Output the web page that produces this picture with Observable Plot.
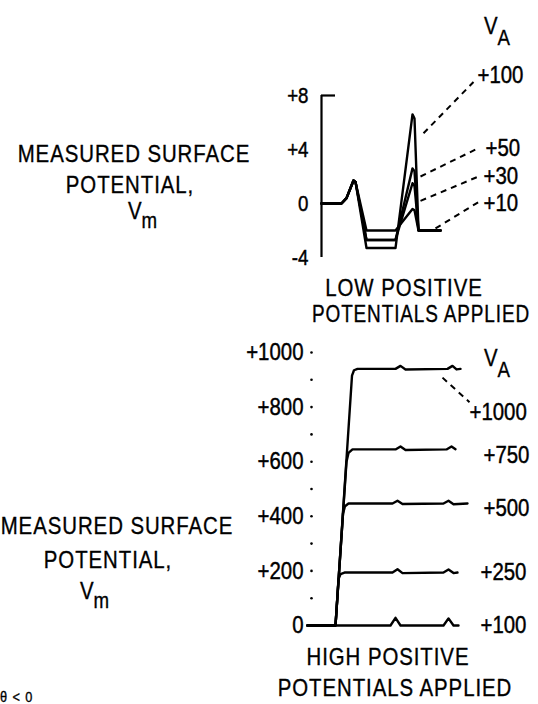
<!DOCTYPE html>
<html><head><meta charset="utf-8">
<script src="https://cdn.jsdelivr.net/npm/d3@7"></script>
<script src="https://cdn.jsdelivr.net/npm/@observablehq/plot@0.6"></script>
<style>
html,body{margin:0;padding:0;background:#fff;}
#wrap{position:relative;width:538px;height:704px;overflow:hidden;font-family:"Liberation Sans",Arial,sans-serif;color:#000;}
#wrap div.t{position:absolute;white-space:nowrap;font-size:24px;line-height:1;letter-spacing:1.1px;-webkit-text-stroke:0.35px #000;transform-origin:left top;transform:scale(0.85,1);}
#wrap div.c{transform-origin:center top;transform:translateX(-50%) scale(0.85,1);}
#wrap svg{position:absolute;left:0;}
#wrap svg text{stroke:#000;stroke-width:0.45px;}
.sub{position:relative;font-size:22px;}
</style></head><body><div id="wrap"></div>
<script>
const FONT = '"Liberation Sans",Arial,sans-serif';

// ---- LOW POSITIVE POTENTIALS panel ----
const lowTicks = [8, 4, 0, -4];
const lowX = [0, 20, 25, 32, 34, 45, 74, 91, 93, 97, 119];
const lowV10  = [0, 0, 0.4, 1.7, 1.6, -2.0, -2.0, -0.4, -0.5, -2.0, -2.0];
const lowV30  = [0, 0, 0.4, 1.7, 1.6, -2.7, -2.7, 1.5, 1.3, -2.0, -2.0];
const lowV50  = [0, 0, 0.4, 1.7, 1.6, -2.7, -2.7, 2.6, 2.4, -2.0, -2.0];
const lowV100 = [0, 0, 0.4, 1.7, 1.6, -3.3, -3.3, 6.6, 6.3, -2.0, -2.0];
const lowNames = ["+10", "+30", "+50", "+100"];
const lowLabelX = [162, 162, 164, 156];
const lowLabelY = [0.0, 2.0, 4.07, 9.5];
const lowLeadFrom = [[114, -1.85], [99, 0.2], [99, 2.0], [102, 5.2]];
const lowLeadTo = [[158, 0.15], [157, 2.0], [156, 4.07], [152, 9.0]];

// ---- HIGH POSITIVE POTENTIALS panel ----
const highTicks = [0, 200, 400, 600, 800, 1000];
const highDots = [100, 200, 300, 400, 500, 600, 700, 800, 900, 1000];
const highNames = ["+100", "+250", "+500", "+750", "+1000"];
const highX100 = [0, 83, 88, 93, 136, 141, 146, 151];
const highV100 = [0, 0, 28, 0, 0, 26, 0, 0];
const highX250 = [0, 28, 31, 33, 37, 85, 90, 95, 136, 141, 146, 150];
const highV250 = [0, 0, 170, 188, 194, 194, 206, 192, 194, 205, 192, 194];
const highX500 = [0, 28, 35.5, 37.5, 41, 85, 90, 95, 136, 141, 146, 160];
const highV500 = [0, 0, 410, 437, 447, 447, 457, 445, 447, 457, 444, 447];
const highX750 = [0, 28, 39, 41, 45, 88, 93, 98, 139, 144, 148];
const highV750 = [0, 0, 600, 632, 645, 645, 656, 643, 645, 656, 646];
const highX1000 = [0, 28, 44.5, 46.5, 50, 88, 93, 98, 140, 145, 149, 153];
const highV1000 = [0, 0, 915, 935, 940, 940, 951, 938, 940, 951, 938, 940];
const highLabelX = [173, 173, 176, 176, 162];
const highLabelY = [0, 194, 429, 623, 780];
const highLeadFrom = [[135, 908]];
const highLeadTo = [[162, 818]];

const wrap = document.getElementById("wrap");
function addText(html, left, top, center, extra) {
  const d = document.createElement("div");
  d.className = "t" + (center ? " c" : "");
  d.innerHTML = html;
  d.style.left = left + "px";
  d.style.top = top + "px";
  if (extra) Object.assign(d.style, extra);
  wrap.appendChild(d);
}
// narrow the SVG texts (glyphs compressed horizontally, anchors kept)
function squeeze(svg, sx) {
  svg.querySelectorAll("text").forEach(t => {
    const w = t.getComputedTextLength();
    if (w > 0) {
      t.setAttribute("textLength", (w * sx).toFixed(2));
      t.setAttribute("lengthAdjust", "spacingAndGlyphs");
    }
  });
}
const styleObj = {fontFamily: FONT, fontSize: "24px", background: "transparent", color: "#000", overflow: "visible"};
const fmt = d => d > 0 ? "+" + d : String(d);

// top panel
const lowSeries = [lowV10, lowV30, lowV50, lowV100];
const lowData = lowSeries.flatMap((vals, s) => lowX.map((x, i) => ({series: lowNames[s], x, y: vals[i]})));
const lowLabels = lowNames.map((t, i) => ({t, x: lowLabelX[i], y: lowLabelY[i]}));
const lowLeaders = lowLeadFrom.map((f, i) => ({x1: f[0], y1: f[1], x2: lowLeadTo[i][0], y2: lowLeadTo[i][1]}));

const topPlot = Plot.plot({
  width: 538, height: 270,
  marginLeft: 321, marginRight: 97, marginTop: 95, marginBottom: 13,
  x: {domain: [0, 120], axis: null},
  y: {domain: [-4, 8], axis: null},
  style: styleObj,
  marks: [
    Plot.ruleX([0], {y1: -4, y2: 8, stroke: "#000", strokeWidth: 2.2}),
    Plot.ruleY([8], {x1: 0, x2: 14, stroke: "#000", strokeWidth: 2.2}),
    Plot.axisY({ticks: lowTicks, tickFormat: fmt, tickSize: 0, tickPadding: 13, fontSize: 22}),
    Plot.line(lowData, {x: "x", y: "y", z: "series", stroke: "#000", strokeWidth: 2.4}),
    Plot.link(lowLeaders, {x1: "x1", y1: "y1", x2: "x2", y2: "y2", stroke: "#000", strokeWidth: 2, strokeDasharray: "6,5"}),
    Plot.text(lowLabels, {x: "x", y: "y", text: "t", textAnchor: "start", fontSize: 24})
  ]
});
topPlot.style.top = "0px";
wrap.appendChild(topPlot);
squeeze(topPlot, 0.85);

// bottom panel
const highXs = [highX100, highX250, highX500, highX750, highX1000];
const highVs = [highV100, highV250, highV500, highV750, highV1000];
const highData = highNames.flatMap((n, s) => highXs[s].map((x, i) => ({series: n, x, y: highVs[s][i]})));
const highLabels = highNames.map((t, i) => ({t, x: highLabelX[i], y: highLabelY[i]}));
const highLeaders = highLeadFrom.map((f, i) => ({x1: f[0], y1: f[1], x2: highLeadTo[i][0], y2: highLeadTo[i][1]}));

const botPlot = Plot.plot({
  width: 538, height: 320,
  marginLeft: 307, marginRight: 71, marginTop: 22, marginBottom: 25,
  x: {domain: [0, 160], axis: null},
  y: {domain: [0, 1000], axis: null},
  style: styleObj,
  marks: [
    Plot.dot(highDots, {x: 4, y: d => d, r: 1.3, fill: "#000", stroke: null}),
    Plot.axisY({ticks: highTicks, tickFormat: fmt, tickSize: 0, tickPadding: 4, fontSize: 24}),
    Plot.line(highData, {x: "x", y: "y", z: "series", stroke: "#000", strokeWidth: 2.4}),
    Plot.link(highLeaders, {x1: "x1", y1: "y1", x2: "x2", y2: "y2", stroke: "#000", strokeWidth: 2, strokeDasharray: "6,5"}),
    Plot.text(highLabels, {x: "x", y: "y", text: "t", textAnchor: "start", fontSize: 24})
  ]
});
botPlot.style.top = "330px";
wrap.appendChild(botPlot);
squeeze(botPlot, 0.85);

// titles and captions
addText("MEASURED SURFACE", 134, 142, true);
addText("POTENTIAL,", 130, 173, true);
addText('V<span class="sub" style="top:9px">m</span>', 128, 199, false, {letterSpacing: "0px"});
addText('V<span class="sub" style="top:11px">A</span>', 484, 14, false, {letterSpacing: "0px"});
addText("LOW POSITIVE", 404, 276, true);
addText("POTENTIALS APPLIED", 421, 302, true, {transform: "translateX(-50%) scale(0.79,1)"});

addText('V<span class="sub" style="top:11px">A</span>', 484, 346, false, {letterSpacing: "0px"});
addText("MEASURED SURFACE", 117, 514, true);
addText("POTENTIAL,", 108, 548, true);
addText('V<span class="sub" style="top:9px">m</span>', 80, 579, false, {letterSpacing: "0px"});
addText("HIGH POSITIVE", 388, 645, true);
addText("POTENTIALS APPLIED", 395, 676, true);
addText("θ < 0", 0, 689, false, {fontSize: "15px"});
</script></body></html>
